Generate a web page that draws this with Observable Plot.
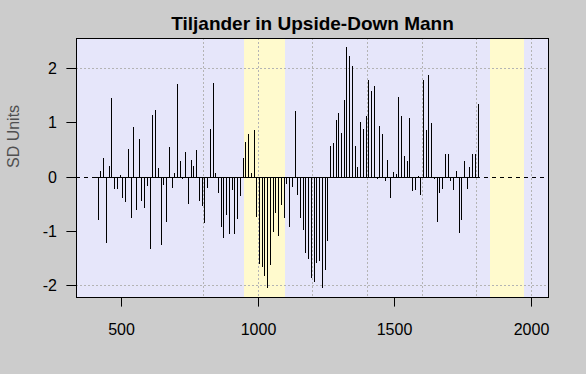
<!DOCTYPE html>
<html>
<head>
<meta charset="utf-8">
<script src="https://cdn.jsdelivr.net/npm/d3@7"></script>
<script src="https://cdn.jsdelivr.net/npm/@observablehq/plot@0.6"></script>
<style>
html, body { margin: 0; padding: 0; background: #cccccc; }
#chart { width: 586px; height: 374px; }
</style>
</head>
<body>
<div id="chart"></div>
<script>
const title = "Tiljander in Upside-Down Mann";
const yLabel = "SD Units";

const years = [
  415, 425, 435, 445, 455, 465, 475, 485, 495, 505,
  515, 525, 535, 545, 555, 565, 575, 585, 595, 605,
  615, 625, 635, 645, 655, 665, 675, 685, 695, 705,
  715, 725, 735, 745, 755, 765, 775, 785, 795, 805,
  815, 825, 835, 845, 855, 865, 875, 885, 895, 905,
  915, 925, 935, 945, 955, 965, 975, 985, 995, 1005,
  1015, 1025, 1035, 1045, 1055, 1065, 1075, 1085, 1095, 1105,
  1115, 1125, 1135, 1145, 1155, 1165, 1175, 1185, 1195, 1205,
  1215, 1225, 1235, 1245, 1255, 1265, 1275, 1285, 1295, 1305,
  1315, 1325, 1335, 1345, 1355, 1365, 1375, 1385, 1395, 1405,
  1415, 1425, 1435, 1445, 1455, 1465, 1475, 1485, 1495, 1505,
  1515, 1525, 1535, 1545, 1555, 1565, 1575, 1585, 1595, 1605,
  1615, 1625, 1635, 1645, 1655, 1665, 1675, 1685, 1695, 1705,
  1715, 1725, 1735, 1745, 1755, 1765, 1775, 1785, 1795, 1805
];

const values = [
  -0.80, 0.11, 0.35, -1.23, 0.20, 1.44, -0.23, -0.23, 0.02, -0.40,
  -0.47, 0.50, -0.77, 0.92, -0.62, 0.70, -0.45, -0.58, -0.18, -1.34,
  1.14, 1.22, 0.15, -1.27, -0.16, -0.84, 0.55, -0.22, 0.06, 1.71,
  0.28, -0.05, 0.46, -0.51, 0.31, 0.20, 0.48, -0.45, -0.55, -0.86,
  -0.22, 0.88, 1.73, 0.07, -0.31, -0.93, -1.14, -0.71, -1.06, -0.25,
  -1.06, -0.79, -0.36, 0.35, 0.63, 0.79, 0.06, 0.85, -0.75, -1.62,
  -1.67, -1.84, -2.06, -1.63, -1.03, -0.68, -1.10, -0.53, -0.77, -0.14,
  -0.93, -0.20, 1.20, -0.34, -0.77, -0.99, -1.41, -1.52, -1.87, -1.95,
  -1.60, -1.56, -2.06, -1.73, -1.19, 0.57, 0.61, 1.04, 1.17, 0.81,
  1.41, 2.38, 2.23, 2.03, 0.57, 0.17, 1.00, 0.87, 1.11, 1.77,
  1.57, 1.66, -0.05, 0.94, 0.79, -0.09, 0.31, -0.40, 0.09, 0.04,
  1.47, 1.11, 0.37, 0.28, 1.07, -0.27, -0.25, 0.01, -0.34, 1.77,
  0.85, 1.88, 0.98, -0.05, -0.84, -0.31, -0.23, 0.42, 0.42, -0.09,
  -0.25, 0.11, -1.04, -0.80, 0.29, -0.23, 0.17, 0.42, 0.41, 1.33
];

const bandStarts = [950, 1850];
const bandEnds = [1100, 1975];
const xTicks = [500, 1000, 1500, 2000];
const yTicks = [-2, -1, 0, 1, 2];
const xGrid = [800, 1000, 1200, 1400, 1600, 1800, 2000];
const yGrid = [-2, 2];
const zeroSpanStart = [395];
const zeroSpanEnd = [1815];

const data = years.map((year, i) => ({year, value: values[i]}));
const bands = bandStarts.map((s, i) => ({start: s, end: bandEnds[i]}));
const zeroSpan = zeroSpanStart.map((s, i) => ({y: 0, x1: s, x2: zeroSpanEnd[i]}));

const font = "'Liberation Sans', Arial, Helvetica, sans-serif";

const chart = Plot.plot({
  width: 586,
  height: 374,
  marginLeft: 76,
  marginRight: 38,
  marginTop: 38,
  marginBottom: 77,
  style: {background: "#cccccc", fontFamily: font, fontSize: "16px", color: "black", overflow: "visible"},
  x: {domain: [335.4, 2062.2], round: true},
  y: {domain: [-2.221, 2.553], round: true},
  marks: [
    Plot.frame({fill: "#e6e6fa", stroke: null}),
    Plot.rect(bands, {x1: "start", x2: "end", fill: "#fffacd"}),
    Plot.ruleX(xGrid, {stroke: "#b4b4b4", strokeDasharray: "2,2"}),
    Plot.ruleY(yGrid, {stroke: "#b4b4b4", strokeDasharray: "2,2"}),
    Plot.ruleY([0], {stroke: "black", strokeDasharray: "4,4"}),
    Plot.ruleY(zeroSpan, {y: "y", x1: "x1", x2: "x2", stroke: "black"}),
    Plot.ruleX(data, {x: "year", y1: 0, y2: "value", stroke: "black", strokeWidth: 1}),
    Plot.frame({stroke: "black"}),
    Plot.axisX({ticks: xTicks, tickSize: 9.6, tickPadding: 16.5, label: null, fontSize: 16, tickFormat: d => String(d)}),
    Plot.axisY({ticks: yTicks, tickSize: 9.6, tickPadding: 10, label: null, fontSize: 16, tickFormat: d => String(d)}),
    Plot.text([title], {frameAnchor: "top", dy: -8.5, lineAnchor: "bottom", fontSize: 19, fontWeight: "bold", fill: "black"}),
    Plot.text([yLabel], {frameAnchor: "left", dx: -63, rotate: -90, fontSize: 16, fill: "#505050"})
  ]
});
document.getElementById("chart").appendChild(chart);
</script>
</body>
</html>
